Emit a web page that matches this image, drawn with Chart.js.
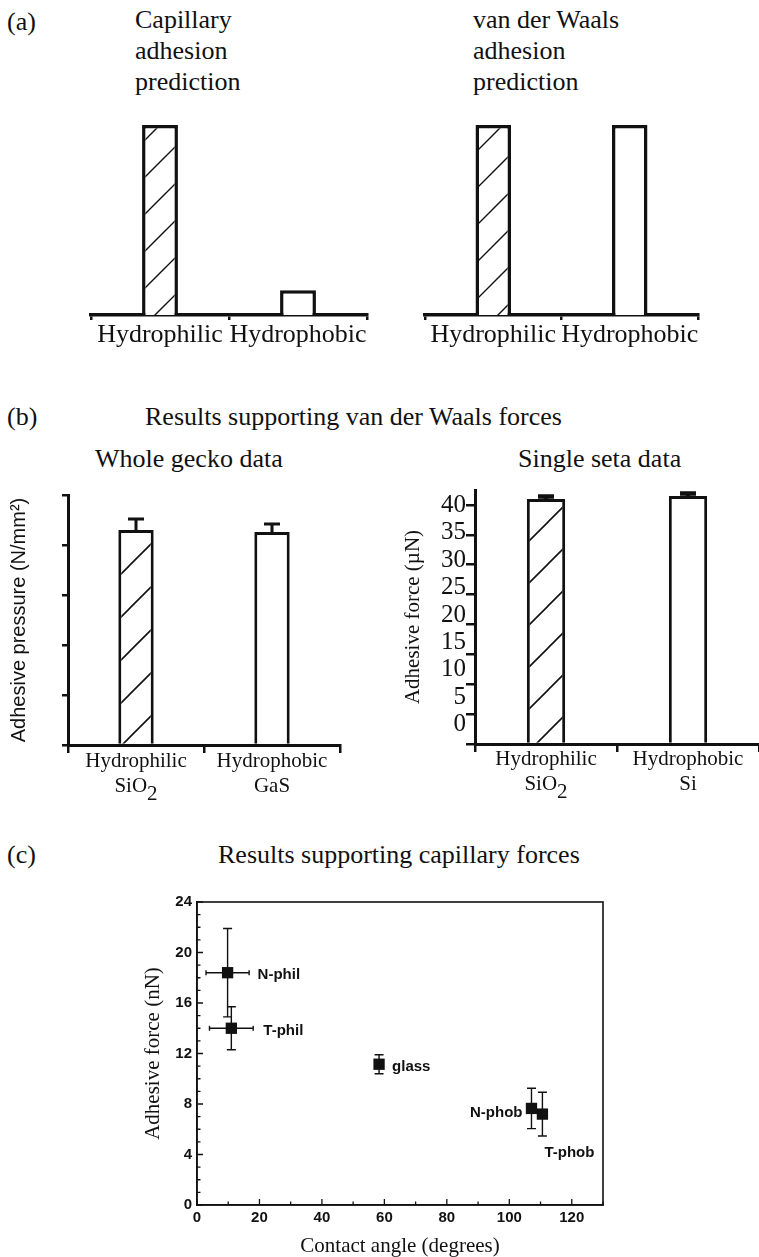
<!DOCTYPE html>
<html lang="en">
<head>
<meta charset="UTF-8">
<title>Gecko adhesion: capillary vs van der Waals</title>
<style>
  body { margin: 0; background: #fff; }
  #fig {
    position: relative;
    width: 759px;
    height: 1257px;
    overflow: hidden;
    font-family: 'Liberation Serif', 'Times New Roman', serif;
    color: #111;
  }
  .txt {
    position: absolute;
    font-size: 26px;
    line-height: 31.2px;
    white-space: nowrap;
  }
  canvas { position: absolute; }
</style>
</head>
<body>
<div id="fig">
  <div class="txt" style="left:7px;top:5.6px">(a)</div>
  <div class="txt" style="left:135px;top:3.9px">Capillary<br>adhesion<br>prediction</div>
  <div class="txt" style="left:473px;top:3.9px">van der Waals<br>adhesion<br>prediction</div>

  <div class="txt" style="left:7px;top:400.6px">(b)</div>
  <div class="txt" style="left:145px;top:400.6px">Results supporting van der Waals forces</div>
  <div class="txt" style="left:95px;top:442.6px">Whole gecko data</div>
  <div class="txt" style="left:518px;top:442.6px">Single seta data</div>

  <div class="txt" style="left:7px;top:838.6px">(c)</div>
  <div class="txt" style="left:218px;top:838.6px">Results supporting capillary forces</div>

  <canvas id="capPred" width="380" height="260" style="left:0;top:100px"></canvas>
  <canvas id="vdwPred" width="379" height="260" style="left:380px;top:100px"></canvas>
  <canvas id="geckoChart" width="380" height="320" style="left:0;top:480px"></canvas>
  <canvas id="setaChart" width="379" height="320" style="left:380px;top:480px"></canvas>
  <canvas id="angleChart" width="520" height="377" style="left:100px;top:880px"></canvas>
</div>

<script src="https://cdn.jsdelivr.net/npm/chart.js"></script>
<script>
  // (a) predicted adhesion, relative units
  const surfaceLabels = ['Hydrophilic', 'Hydrophobic'];
  const capillaryPred = [1.0, 0.13];
  const vdwPred = [1.0, 1.0];

  // (b) whole gecko: adhesive pressure, with upper error
  const geckoLabels = [['Hydrophilic', 'SiO₂'], ['Hydrophobic', 'GaS']];
  const geckoPressure = [4.3, 4.26];
  const geckoErr = [0.22, 0.16];

  // (b) single seta: adhesive force (µN)
  const setaLabels = [['Hydrophilic', 'SiO₂'], ['Hydrophobic', 'Si']];
  const setaForce = [41.0, 41.5];
  const setaErr = [0.4, 0.4];

  // (c) adhesive force vs contact angle
  const surfaceNames = ['N-phil', 'T-phil', 'glass', 'N-phob', 'T-phob'];
  const contactAngle = [9.8, 11.0, 58.3, 107.1, 110.6];
  const angleErr = [6.9, 7.0, 0, 0, 0];
  const adhesionNN = [18.4, 14.0, 11.15, 7.65, 7.2];
  const adhesionErr = [3.5, 1.7, 0.75, 1.6, 1.73];

  const ink = '#111';
  const serif = "'Liberation Serif', 'Times New Roman', serif";
  const sans = "'Liberation Sans', Arial, sans-serif";

  Chart.defaults.font.family = serif;
  Chart.defaults.color = ink;

  // diagonal "/" hatching, one line per tile
  function hatch(step, width) {
    const c = document.createElement('canvas');
    c.width = c.height = step;
    const g = c.getContext('2d');
    g.fillStyle = '#fff';
    g.fillRect(0, 0, step, step);
    g.strokeStyle = ink;
    g.lineWidth = width;
    g.beginPath();
    [0, step, 2 * step].forEach(k => {
      g.moveTo(-1, k + 1);
      g.lineTo(k + 1, -1);
    });
    g.stroke();
    return g.createPattern(c, 'repeat');
  }

  // upward error bars on top of the bars
  const barErrors = {
    id: 'barErrors',
    afterDatasetsDraw(chart, args, opts) {
      if (!opts.up) return;
      const { ctx } = chart;
      const y = chart.scales.y;
      const values = chart.data.datasets[0].data;
      ctx.save();
      ctx.strokeStyle = ink;
      ctx.lineWidth = opts.width;
      chart.getDatasetMeta(0).data.forEach((bar, i) => {
        const top = y.getPixelForValue(values[i] + opts.up[i]);
        ctx.beginPath();
        ctx.moveTo(bar.x, bar.y);
        ctx.lineTo(bar.x, top);
        ctx.moveTo(bar.x - opts.cap, top);
        ctx.lineTo(bar.x + opts.cap, top);
        ctx.stroke();
      });
      ctx.restore();
    }
  };

  // tick labels keep "₂" as a gap; the digit is drawn lowered at full size
  const subscripts = {
    id: 'subscripts',
    afterDraw(chart) {
      const x = chart.scales.x;
      const o = x.options;
      const size = o.ticks.font.size;
      const lh = size * 1.2;
      const { ctx } = chart;
      ctx.save();
      ctx.font = size + 'px ' + serif;
      ctx.fillStyle = ink;
      ctx.textBaseline = 'middle';
      ctx.textAlign = 'left';
      chart.data.labels.forEach((lines, i) => {
        lines.forEach((line, j) => {
          const k = line.indexOf('₂');
          if (k < 0) return;
          const shown = line.replace('₂', '\u2007');
          const left = x.getPixelForTick(i) - ctx.measureText(shown).width / 2;
          const y = x.top + o.grid.tickLength + o.ticks.padding + lh * (j + 0.5);
          ctx.fillText('2', left + ctx.measureText(line.slice(0, k)).width, y + size * 0.35);
        });
      });
      ctx.restore();
    }
  };

  function categoryAxis(fontSize, tickLength, padding) {
    return {
      z: 1,
      grid: { drawOnChartArea: false, offset: true, tickLength: tickLength, lineWidth: 2.5, color: ink },
      border: { color: ink, width: 3.5 },
      ticks: {
        padding: padding,
        color: ink,
        font: { size: fontSize },
        autoSkip: false,
        maxRotation: 0,
        callback(value) {
          const label = this.getLabelForValue(value);
          return Array.isArray(label) ? label.map(s => s.replace('₂', '\u2007')) : label;
        }
      }
    };
  }

  function predictionChart(id, values, padding) {
    return new Chart(document.getElementById(id), {
      type: 'bar',
      data: {
        labels: surfaceLabels,
        datasets: [{
          data: values,
          backgroundColor: [hatch(37, 1.4), '#fff'],
          borderColor: ink,
          borderWidth: 3.5,
          barPercentage: 0.26,
          categoryPercentage: 1
        }]
      },
      options: {
        responsive: false,
        animation: false,
        layout: { padding: padding },
        plugins: { legend: { display: false }, tooltip: { enabled: false } },
        scales: {
          x: categoryAxis(26, 5, 0),
          y: { display: false, min: 0, max: 1.05 }
        }
      }
    });
  }

  predictionChart('capPred', capillaryPred, { left: 91, right: 13, top: 15.5, bottom: 8.8 });
  predictionChart('vdwPred', vdwPred, { left: 45, right: 61, top: 15.5, bottom: 8.8 });

  // whole gecko data
  const geckoX = categoryAxis(21, 8, -4);
  geckoX.border.width = 3;
  new Chart(document.getElementById('geckoChart'), {
    type: 'bar',
    data: {
      labels: geckoLabels,
      datasets: [{
        data: geckoPressure,
        backgroundColor: [hatch(43, 1.6), '#fff'],
        borderColor: ink,
        borderWidth: 3,
        barPercentage: 0.26,
        categoryPercentage: 1
      }]
    },
    options: {
      responsive: false,
      animation: false,
      layout: { padding: { left: 4, top: 15, right: 40, bottom: 4.6 } },
      plugins: {
        legend: { display: false },
        tooltip: { enabled: false },
        barErrors: { up: geckoErr, width: 3, cap: 8 }
      },
      scales: {
        x: geckoX,
        y: {
          z: 1,
          min: 0,
          max: 5,
          ticks: { display: false, stepSize: 1 },
          grid: { drawOnChartArea: false, tickLength: 6, lineWidth: 2.5, color: ink },
          border: { color: ink, width: 3 },
          title: {
            display: true,
            text: 'Adhesive pressure (N/mm²)',
            color: ink,
            font: { family: sans, size: 20 },
            padding: { top: 3, bottom: 31 }
          }
        }
      }
    },
    plugins: [barErrors, subscripts]
  });

  // single seta data; the labelled axis sits outside the tick-mark axis
  const setaX = categoryAxis(21, 8, -5);
  setaX.border.width = 3;
  new Chart(document.getElementById('setaChart'), {
    type: 'bar',
    data: {
      labels: setaLabels,
      datasets: [{
        data: setaForce,
        backgroundColor: [hatch(42, 1.6), '#fff'],
        borderColor: ink,
        borderWidth: 3,
        barPercentage: 0.27,
        categoryPercentage: 1
      }]
    },
    options: {
      responsive: false,
      animation: false,
      layout: { padding: { left: 16.4, top: 10, right: 0, bottom: 7.6 } },
      plugins: {
        legend: { display: false },
        tooltip: { enabled: false },
        barErrors: { up: setaErr, width: 4.5, cap: 8 }
      },
      scales: {
        x: setaX,
        y: {
          z: 1,
          min: 0,
          max: 42.5,
          weight: 0,
          ticks: { display: false, stepSize: 5, includeBounds: false },
          grid: { drawOnChartArea: false, tickLength: 9, lineWidth: 2.5, color: ink },
          border: { color: ink, width: 3 }
        },
        yl: {
          position: 'left',
          weight: 1,
          min: -3.5,
          max: 42.75,
          grid: { display: false, drawTicks: false },
          border: { display: false },
          ticks: {
            stepSize: 5,
            includeBounds: false,
            autoSkip: false,
            padding: 0,
            color: ink,
            font: { size: 25, lineHeight: 0.8 }
          },
          title: {
            display: true,
            text: 'Adhesive force (µN)',
            color: ink,
            font: { size: 21 },
            padding: { top: 4, bottom: 15.4 }
          }
        }
      }
    },
    plugins: [barErrors, subscripts]
  });

  // (c) inward ticks and a closed frame
  const frameTicks = {
    id: 'frameTicks',
    afterDraw(chart) {
      const { ctx, chartArea: a, scales: { x, y } } = chart;
      ctx.save();
      ctx.strokeStyle = ink;
      ctx.lineWidth = 1.3;
      ctx.beginPath();
      x.ticks.forEach(t => {
        const px = x.getPixelForValue(t.value);
        const len = t.value % 20 === 0 ? 6 : 3.5;
        ctx.moveTo(px, a.bottom);
        ctx.lineTo(px, a.bottom - len);
      });
      y.ticks.forEach(t => {
        const py = y.getPixelForValue(t.value);
        const len = t.value % 4 === 0 ? 6 : 3.5;
        ctx.moveTo(a.left, py);
        ctx.lineTo(a.left + len, py);
      });
      ctx.stroke();
      ctx.lineWidth = 1.6;
      ctx.strokeRect(a.left, a.top, a.right - a.left, a.bottom - a.top);
      ctx.restore();
    }
  };

  // label offsets (px) from each marker: dx, dy, alignment
  const nameOffsets = [[30, 2, 'left'], [32, 3, 'left'], [13, 3, 'left'], [-9, 4, 'right'], [2, 39, 'left']];

  const pointExtras = {
    id: 'pointExtras',
    beforeDatasetsDraw(chart) {
      const { ctx, scales: { x, y } } = chart;
      ctx.save();
      ctx.strokeStyle = ink;
      ctx.lineWidth = 1.4;
      ctx.beginPath();
      contactAngle.forEach((ang, i) => {
        const px = x.getPixelForValue(ang);
        const py = y.getPixelForValue(adhesionNN[i]);
        const yTop = y.getPixelForValue(adhesionNN[i] + adhesionErr[i]);
        const yBot = y.getPixelForValue(adhesionNN[i] - adhesionErr[i]);
        ctx.moveTo(px, yTop); ctx.lineTo(px, yBot);
        ctx.moveTo(px - 4.5, yTop); ctx.lineTo(px + 4.5, yTop);
        ctx.moveTo(px - 4.5, yBot); ctx.lineTo(px + 4.5, yBot);
        if (angleErr[i] > 0) {
          const xl = x.getPixelForValue(ang - angleErr[i]);
          const xr = x.getPixelForValue(ang + angleErr[i]);
          ctx.moveTo(xl, py); ctx.lineTo(xr, py);
          ctx.moveTo(xl, py - 2.5); ctx.lineTo(xl, py + 2.5);
          ctx.moveTo(xr, py - 2.5); ctx.lineTo(xr, py + 2.5);
        }
      });
      ctx.stroke();
      ctx.restore();
    },
    afterDatasetsDraw(chart) {
      const { ctx, scales: { x, y } } = chart;
      ctx.save();
      ctx.fillStyle = ink;
      ctx.font = 'bold 15px ' + sans;
      ctx.textBaseline = 'middle';
      surfaceNames.forEach((name, i) => {
        const [dx, dy, align] = nameOffsets[i];
        ctx.textAlign = align;
        ctx.fillText(name, x.getPixelForValue(contactAngle[i]) + dx, y.getPixelForValue(adhesionNN[i]) + dy);
      });
      ctx.restore();
    }
  };

  new Chart(document.getElementById('angleChart'), {
    type: 'scatter',
    data: {
      datasets: [{
        data: contactAngle.map((a, i) => ({ x: a, y: adhesionNN[i] })),
        pointStyle: 'rect',
        pointRadius: 8,
        backgroundColor: ink,
        borderColor: ink,
        borderWidth: 0
      }]
    },
    options: {
      responsive: false,
      animation: false,
      layout: { padding: { left: 36.4, top: 22, right: 17, bottom: 0 } },
      plugins: { legend: { display: false }, tooltip: { enabled: false } },
      scales: {
        x: {
          min: 0,
          max: 130,
          grid: { display: false, drawTicks: false },
          border: { color: ink, width: 1.6 },
          ticks: {
            stepSize: 10,
            autoSkip: false,
            maxRotation: 0,
            padding: 4,
            color: ink,
            font: { family: sans, size: 15, weight: 'bold' },
            callback: v => (v % 20 === 0 ? v : '')
          },
          title: {
            display: true,
            text: 'Contact angle (degrees)',
            color: ink,
            font: { size: 21, lineHeight: 1 },
            padding: { top: 5, bottom: 0 }
          }
        },
        y: {
          min: 0,
          max: 24,
          grid: { display: false, drawTicks: false },
          border: { color: ink, width: 1.6 },
          ticks: {
            stepSize: 1,
            autoSkip: false,
            padding: 5,
            color: ink,
            font: { family: sans, size: 15, weight: 'bold' },
            callback: v => (v % 4 === 0 ? v : '')
          },
          title: {
            display: true,
            text: 'Adhesive force (nN)',
            color: ink,
            font: { size: 21 },
            padding: { top: 4, bottom: 4.7 }
          }
        }
      }
    },
    plugins: [frameTicks, pointExtras]
  });
</script>
</body>
</html>
